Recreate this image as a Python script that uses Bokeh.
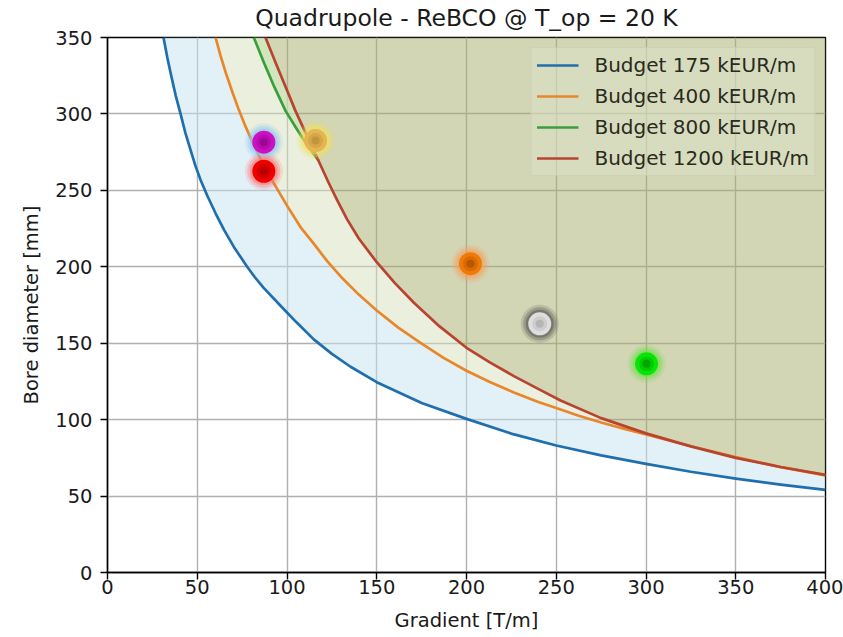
from bokeh.plotting import figure
from bokeh.models import Range1d, Legend, LegendItem, FixedTicker
from bokeh.embed import file_html
from bokeh.resources import INLINE

# ---------------- data ----------------
X_MAX = 400
Y_MAX = 350
x_ticks = [0, 50, 100, 150, 200, 250, 300, 350, 400]
y_ticks = [0, 50, 100, 150, 200, 250, 300, 350]

blue_g = [31.2, 33.3, 35.5, 38, 40.7, 43.3, 46, 49, 51.8, 55.8, 60.2, 65, 70.4, 77.8, 82, 87,
          96.4, 105, 114.9, 125, 135.4, 150, 175, 200, 226, 250, 275, 300, 325, 350, 375, 400]
blue_d = [350, 337, 325, 312, 300, 288, 277.5, 266, 257, 246, 235, 224, 213, 200, 193.3, 186.2,
          174.5, 164, 152.5, 143, 134.6, 124.5, 110.9, 100.5, 90.5, 83.1, 76.6, 71.1, 65.9,
          61.4, 57.5, 54.1]

orange_g = [60.2, 63, 66, 69.5, 73.2, 77, 81, 85.5, 90, 95, 100, 107.5, 115, 122.5, 130, 140,
            150, 162, 174.4, 187, 200, 213, 226.4, 240, 250, 262.5, 275, 287.5, 300, 325, 350,
            375, 400]
orange_d = [350, 338, 326.5, 314.5, 302.5, 291.5, 281, 270, 260, 250, 240, 226, 215, 203.5,
            193.5, 181.8, 171.4, 160.2, 150.2, 140.6, 132, 124.6, 117.8, 111.5, 107.6, 102.5,
            98.1, 94.1, 90.3, 82.6, 75.5, 68.9, 63.5]

green_g = [81.5, 87, 93, 99.2, 105, 111, 117.5]
green_d = [350, 334, 317.5, 302, 291, 280, 269.5]

red_g = [88, 94, 100, 104.7, 111, 117.5, 123, 128, 133.5, 140, 150, 160, 170.7, 185, 200,
         213, 226.4, 241, 252.4, 275, 300, 325, 350, 375, 400]
red_d = [350, 332.5, 315.5, 302, 286, 269.5, 255.5, 243.4, 231, 218.5, 203, 189.5, 176.5,
         161, 147, 137.5, 128.5, 119.5, 112.5, 101, 91, 82.5, 75, 69, 63.9]

labels = ["Budget 175 kEUR/m", "Budget 400 kEUR/m", "Budget 800 kEUR/m", "Budget 1200 kEUR/m"]

# highlighted design points
pt_g = [87.1, 87.1, 115.9, 202.2, 240.8, 300.3]
pt_d = [281.5, 262.5, 282.6, 202, 162.7, 136.5]
pt_core = ["#cc10c4", "#f00000", "#e6b450", "#f07a05", "#dedede", "#05e605"]
pt_center = ["#7a0070", "#900000", "#a88030", "#904000", "#9a9a9a", "#007a00"]
pt_glow = ["#8cc4f0", "#ff7070", "#f2e060", "#f5a060", "#505050", "#70dd50"]

# ---------------- figure ----------------
FONT = "DejaVu Sans"
p = figure(width=843, height=637, x_range=Range1d(0, X_MAX), y_range=Range1d(0, Y_MAX),
           output_backend="svg", toolbar_location=None,
           title="Quadrupole - ReBCO @ T_op = 20 K",
           min_border_left=107, min_border_right=18, min_border_top=37, min_border_bottom=65)
p.background_fill_color = "white"
p.title.text_font = FONT
p.title.text_font_size = "23.5px"
p.title.text_font_style = "normal"
p.title.text_color = "#1a1a1a"
p.title.align = "center"
p.title.standoff = 7
p.title.vertical_align = "top"

# bands
blue_band_x = blue_g + orange_g[::-1]
blue_band_y = blue_d + orange_d[::-1]
p.patch(blue_band_x, blue_band_y, fill_color="#c5e3f1", fill_alpha=0.5, line_color=None)

yel_band_x = orange_g + red_g[::-1]
yel_band_y = orange_d + red_d[::-1]
p.patch(yel_band_x, yel_band_y, fill_color="#d7dfbd", fill_alpha=0.5, line_color=None)

green_end = green_g[-1]
red_part = [(g, d) for g, d in zip(red_g, red_d) if g <= green_end]
grn_band_x = green_g + [g for g, _ in red_part][::-1]
grn_band_y = green_d + [d for _, d in red_part][::-1]
p.patch(grn_band_x, grn_band_y, fill_color="#b8dca0", fill_alpha=0.5, line_color=None)

olive_x = red_g + [X_MAX]
olive_y = red_d + [Y_MAX]
p.patch(olive_x, olive_y, fill_color="#a5ad69", fill_alpha=0.5, line_color=None)

# curves
lw = 2.7
r_blue = p.line(blue_g, blue_d, line_color="#1f6fae", line_width=lw, line_join="round")
r_orange = p.line(orange_g, orange_d, line_color="#e8872a", line_width=lw, line_join="round")
r_green = p.line(green_g, green_d, line_color="#3a9f3a", line_width=lw, line_join="round")
r_red = p.line(red_g, red_d, line_color="#b8432f", line_width=lw, line_join="round")

# glowing markers
for s, a in [(38, 0.18), (33, 0.3), (28, 0.45)]:
    p.scatter(pt_g, pt_d, size=s, fill_color=pt_glow, fill_alpha=a, line_color=None)
p.scatter(pt_g, pt_d, size=23, fill_color=pt_core, line_color=None)
p.scatter(pt_g, pt_d, size=15, fill_color=pt_center, fill_alpha=0.25, line_color=None)
p.scatter(pt_g, pt_d, size=8, fill_color=pt_center, fill_alpha=0.45, line_color=None)

# legend
legend = Legend(items=[LegendItem(label=labels[0], renderers=[r_blue]),
                       LegendItem(label=labels[1], renderers=[r_orange]),
                       LegendItem(label=labels[2], renderers=[r_green]),
                       LegendItem(label=labels[3], renderers=[r_red])],
                location="top_right")
legend.label_text_font = FONT
legend.label_text_font_size = "20px"
legend.label_text_color = "#2a2a20"
legend.glyph_width = 42
legend.glyph_height = 24
legend.label_height = 24
legend.spacing = 7
legend.padding = 5
legend.margin = 10
legend.label_standoff = 16
legend.background_fill_color = "#dcdfc6"
legend.background_fill_alpha = 0.6
legend.border_line_color = "#c3c6aa"
legend.border_line_width = 1
p.add_layout(legend)

# axes
for ax in (p.xaxis, p.yaxis):
    ax.major_label_text_font = FONT
    ax.major_label_text_font_size = "19.5px"
    ax.major_label_text_color = "#1a1a1a"
    ax.axis_label_text_font = FONT
    ax.axis_label_text_font_size = "19.5px"
    ax.axis_label_text_font_style = "normal"
    ax.axis_label_text_color = "#1a1a1a"
    ax.major_tick_out = 7
    ax.major_tick_in = 0
    ax.minor_tick_line_color = None
    ax.axis_line_color = "black"
    ax.axis_line_width = 1.4
    ax.major_tick_line_width = 1.4
p.xaxis.major_label_standoff = 0
p.xaxis.axis_label_standoff = 12
p.yaxis.major_label_standoff = 8
p.yaxis.axis_label_standoff = 9
p.xaxis.ticker = FixedTicker(ticks=x_ticks)
p.yaxis.ticker = FixedTicker(ticks=y_ticks)
p.xaxis.axis_label = "Gradient [T/m]"
p.yaxis.axis_label = "Bore diameter [mm]"

p.grid.grid_line_color = "#b0b0b0"
p.grid.grid_line_width = 1.4
p.outline_line_color = "black"
p.outline_line_width = 1.4
p.outline_line_alpha = 1.0

open("out.html", "w").write(file_html(p, INLINE))
